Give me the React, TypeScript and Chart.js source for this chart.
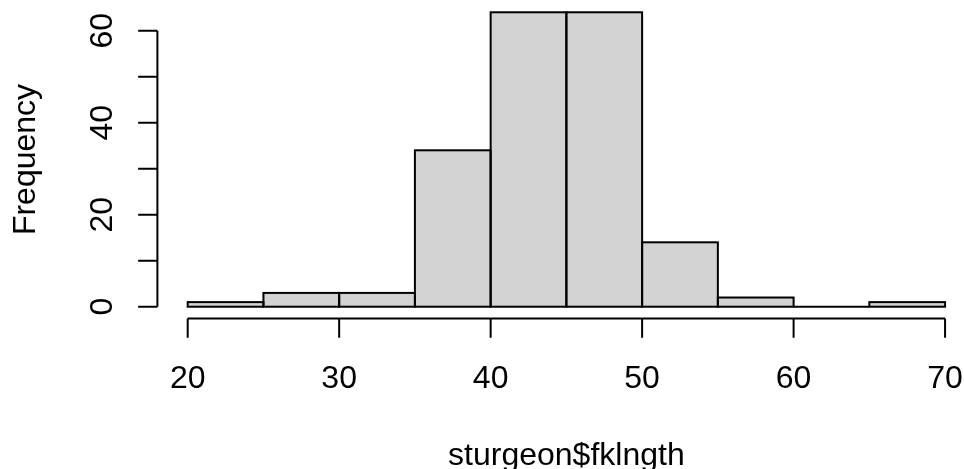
import React, { useEffect, useRef } from "react";
import { Chart, registerables } from "chart.js";

Chart.register(...registerables);

const breaks = [20, 25, 30, 35, 40, 45, 50, 55, 60, 65, 70];
const counts = [1, 3, 3, 34, 64, 64, 14, 2, 0, 1];
const xTickValues = [20, 30, 40, 50, 60, 70];
const xTickLabels = ["20", "30", "40", "50", "60", "70"];
const yTickValues = [0, 10, 20, 30, 40, 50, 60];
const yTickLabels = ["0", "", "20", "", "40", "", "60"];
const xTitle = "sturgeon$fklngth";
const yTitle = "Frequency";

const FONT = '32px "Liberation Sans", Arial, Helvetica, sans-serif';
const LW = 2;
const TICK = 19.25;

const rAxesPlugin = {
  id: "rAxes",
  afterDatasetsDraw(chart: any) {
    const ctx = chart.ctx;
    const meta = chart.getDatasetMeta(0);
    ctx.save();
    ctx.strokeStyle = "#000";
    ctx.lineWidth = LW;
    meta.data.forEach((el: any) => {
      const p = el.getProps(["x", "y", "base", "width"], true);
      ctx.strokeRect(p.x - p.width / 2, p.y, p.width, p.base - p.y);
    });
    ctx.restore();
  },
  afterDraw(chart: any) {
    const ctx = chart.ctx;
    const xs = chart.scales.x;
    const ys = chart.scales.y;
    const area = chart.chartArea;
    ctx.save();
    ctx.strokeStyle = "#000";
    ctx.fillStyle = "#000";
    ctx.lineWidth = LW;
    ctx.lineCap = "butt";

    // x axis
    const xb = area.bottom;
    ctx.beginPath();
    ctx.moveTo(xs.getPixelForValue(xTickValues[0]), xb);
    ctx.lineTo(xs.getPixelForValue(xTickValues[xTickValues.length - 1]), xb);
    xTickValues.forEach((v) => {
      const px = xs.getPixelForValue(v);
      ctx.moveTo(px, xb);
      ctx.lineTo(px, xb + TICK);
    });
    ctx.stroke();

    // y axis
    const yl = area.left;
    ctx.beginPath();
    ctx.moveTo(yl, ys.getPixelForValue(yTickValues[0]));
    ctx.lineTo(yl, ys.getPixelForValue(yTickValues[yTickValues.length - 1]));
    yTickValues.forEach((v) => {
      const py = ys.getPixelForValue(v);
      ctx.moveTo(yl, py);
      ctx.lineTo(yl - TICK, py);
    });
    ctx.stroke();

    ctx.font = FONT;
    ctx.textBaseline = "alphabetic";
    ctx.textAlign = "center";
    xTickValues.forEach((v, i) => {
      ctx.fillText(xTickLabels[i], xs.getPixelForValue(v), xb + 69.5);
    });
    ctx.fillText(xTitle, (area.left + xs.getPixelForValue(72)) / 2, xb + 146.5);

    yTickValues.forEach((v, i) => {
      const lab = yTickLabels[i];
      if (!lab) return;
      ctx.save();
      ctx.translate(yl - 45.4, ys.getPixelForValue(v));
      ctx.rotate(-Math.PI / 2);
      ctx.fillText(lab, 0, 0);
      ctx.restore();
    });
    ctx.save();
    ctx.translate(yl - 122.6, (area.top + area.bottom) / 2);
    ctx.rotate(-Math.PI / 2);
    ctx.fillText(yTitle, 0, 0);
    ctx.restore();

    ctx.restore();
  },
};

export default function App() {
  const ref = useRef<HTMLCanvasElement | null>(null);
  useEffect(() => {
    if (!ref.current) return;
    const data = counts.map((c, i) => ({ x: (breaks[i] + breaks[i + 1]) / 2, y: c }));
    const chart = new Chart(ref.current, {
      type: "bar",
      data: {
        datasets: [
          {
            data: data as any,
            backgroundColor: "#D3D3D3",
            borderWidth: 0,
            barPercentage: 1,
            categoryPercentage: 1,
          },
        ],
      },
      options: {
        responsive: false,
        animation: false,
        devicePixelRatio: 1,
        layout: { padding: { left: 157.4, right: 0, top: 0.5, bottom: 150.5 } },
        plugins: { legend: { display: false }, tooltip: { enabled: false } },
        scales: {
          x: {
            type: "linear",
            min: 18,
            max: 71.25,
            offset: false,
            display: false,
            afterBuildTicks: (scale: any) => {
              scale.ticks = breaks.map((v) => ({ value: v }));
            },
          },
          y: { type: "linear", min: -2.56, max: 66.56, display: false },
        },
      },
      plugins: [rAxesPlugin],
    });
    return () => chart.destroy();
  }, []);
  return (
    <div style={{ position: "absolute", left: 0, top: 0, width: 964, height: 469, background: "#fff" }}>
      <canvas ref={ref} width={964} height={469} style={{ display: "block" }} />
    </div>
  );
}
